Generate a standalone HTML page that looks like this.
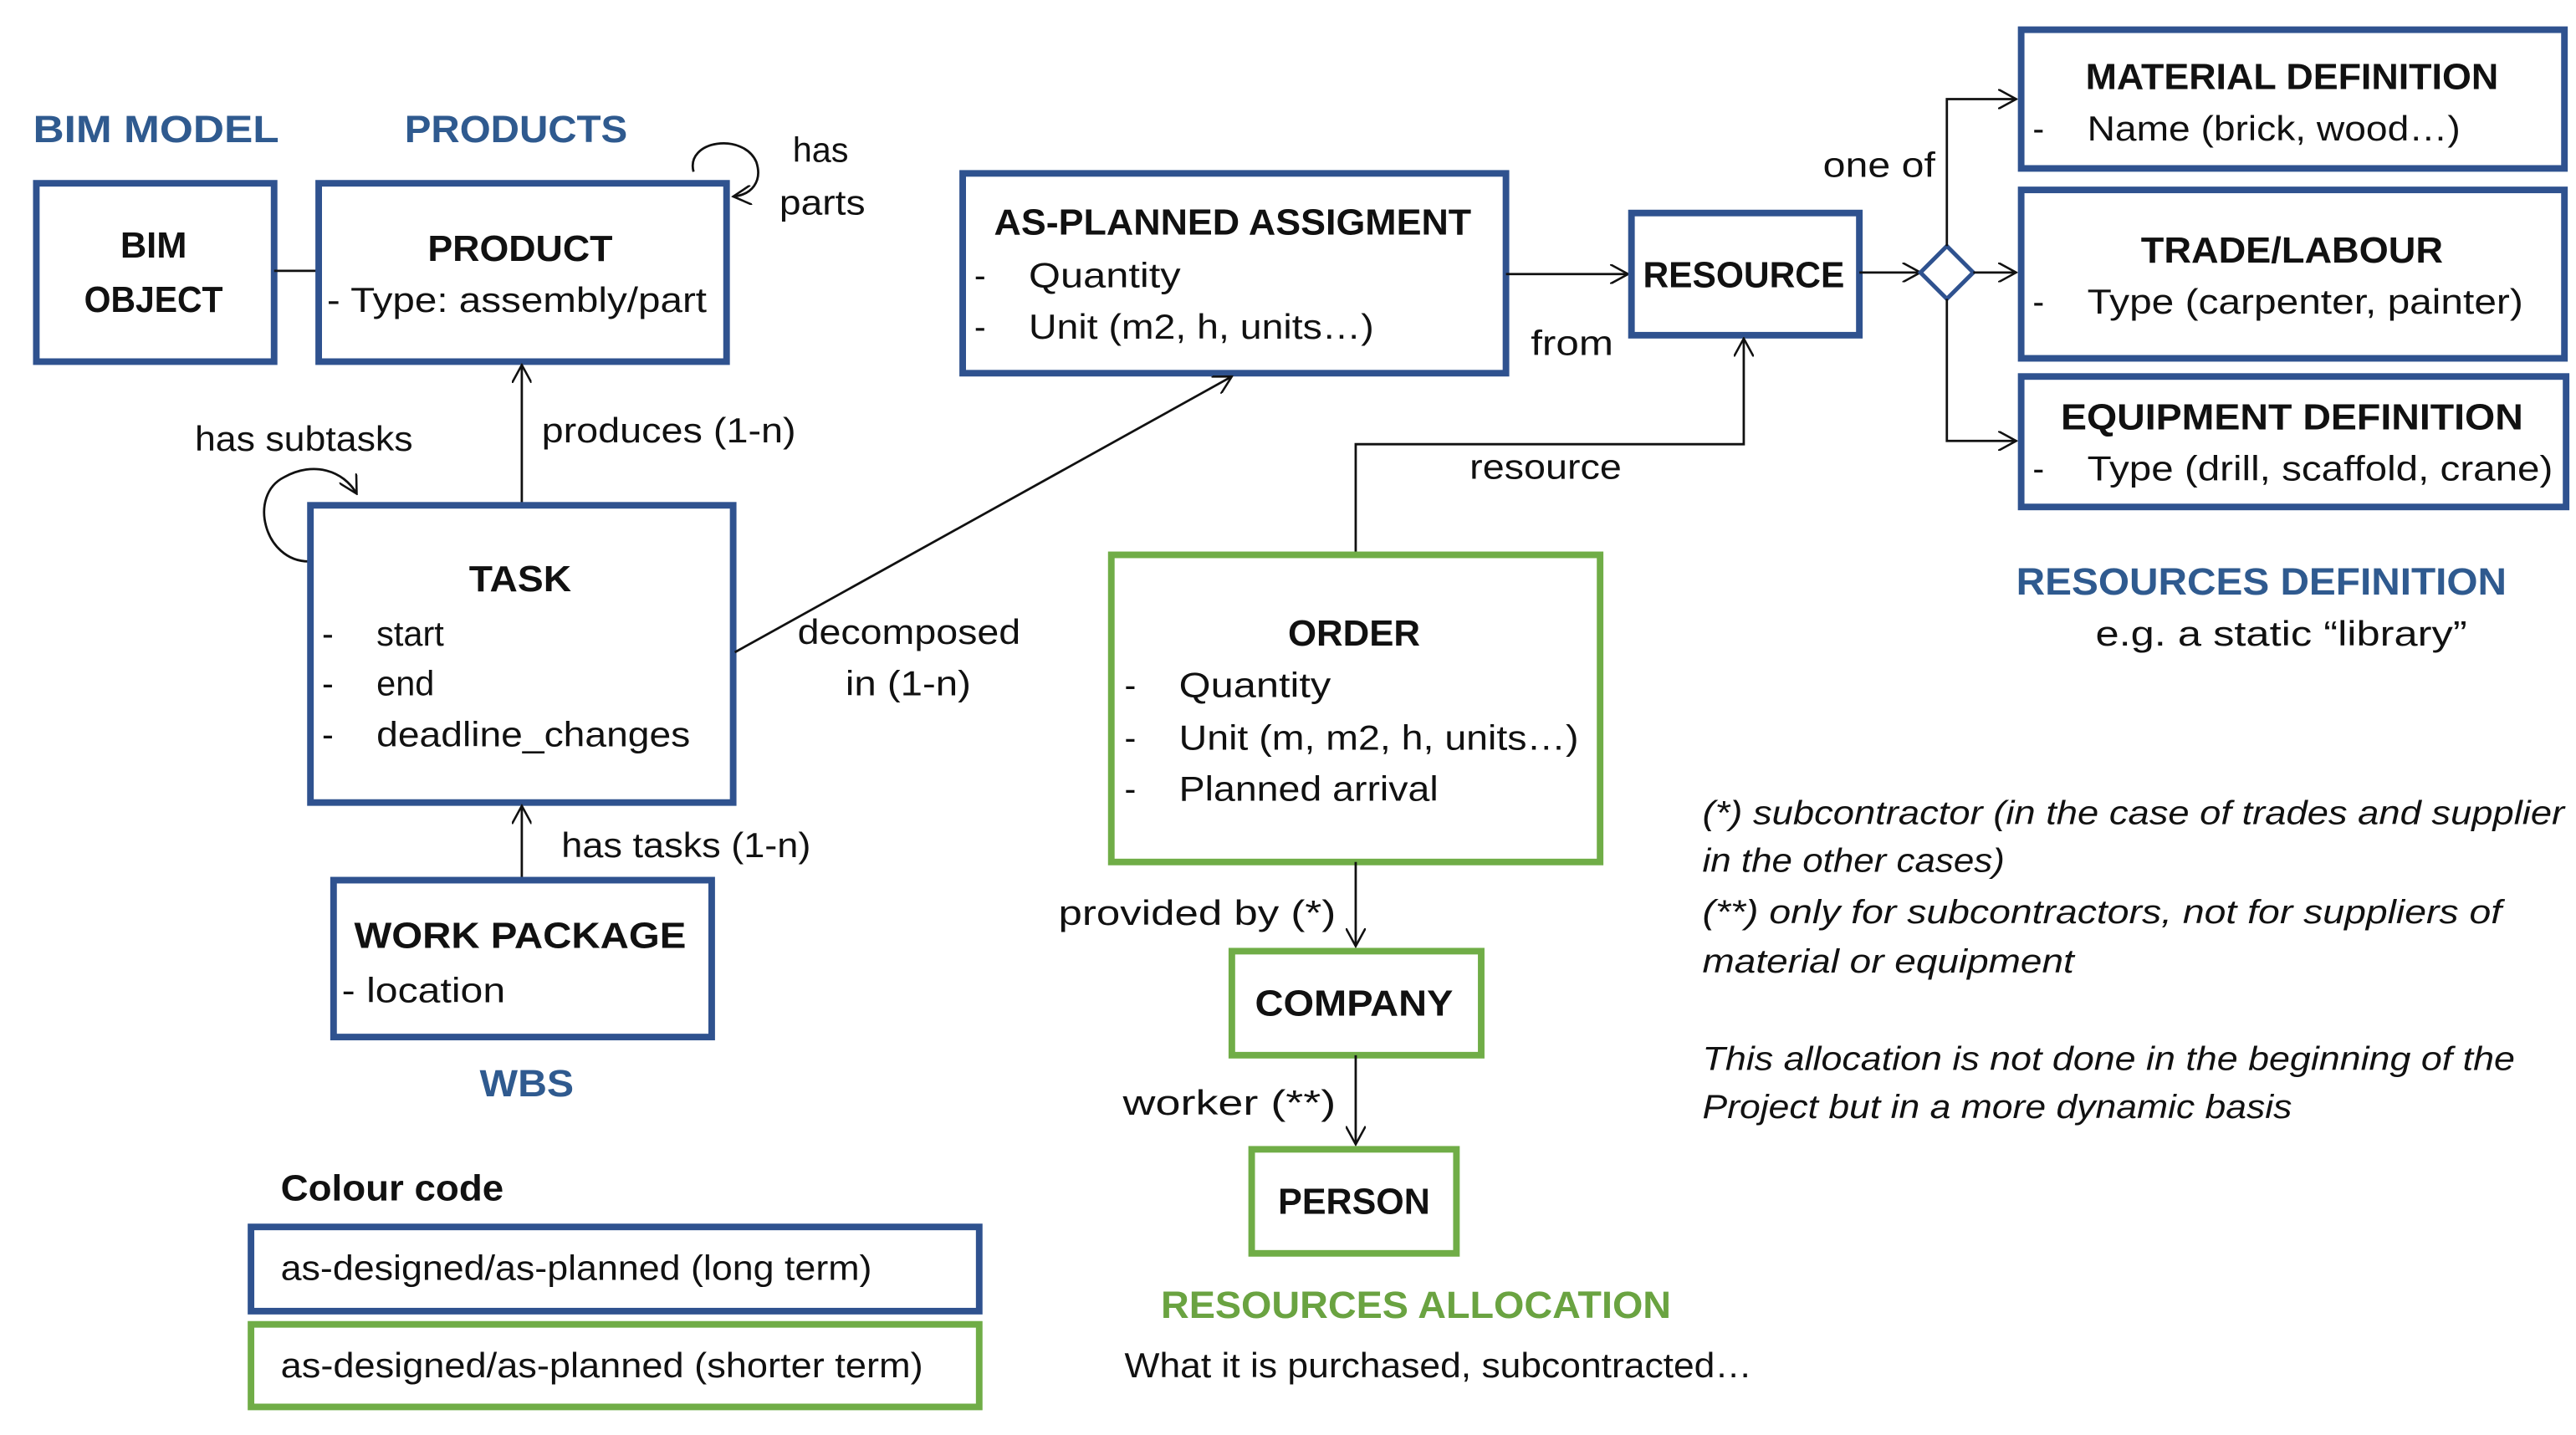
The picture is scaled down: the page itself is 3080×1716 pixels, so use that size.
<!DOCTYPE html>
<html><head><meta charset="utf-8"><style>
html,body{margin:0;padding:0;background:#fff;}
svg{display:block;}
text{font-family:"Liberation Sans",sans-serif;fill:#111;}
.t{font-size:21px;}
.b{font-size:22px;font-weight:bold;}
.h{font-size:23px;font-weight:bold;fill:#2f5a8f;}
.g{font-size:23px;font-weight:bold;fill:#6aa341;}
.i{font-size:20px;font-style:italic;}
.bl{fill:none;stroke:#2f528f;stroke-width:4;}
.gr{fill:none;stroke:#70ad47;stroke-width:4;}
.ln{fill:none;stroke:#111;stroke-width:1.4;}
</style></head><body>
<svg width="3080" height="1716" viewBox="0 0 1560 869" preserveAspectRatio="none" xmlns="http://www.w3.org/2000/svg">
<defs><marker id="a" viewBox="0 0 12 12" refX="11" refY="6" markerWidth="12" markerHeight="12" markerUnits="userSpaceOnUse" orient="auto"><path d="M0,0 L11,6 L0,12" fill="none" stroke="#111" stroke-width="1.3"/></marker></defs>
<rect width="1560" height="869" fill="#fff"/>

<text class="h" x="20" y="86" textLength="149" lengthAdjust="spacingAndGlyphs">BIM MODEL</text>
<text class="h" x="245" y="86" textLength="135" lengthAdjust="spacingAndGlyphs">PRODUCTS</text>

<rect class="bl" x="22" y="111" width="144" height="108"/>
<text class="b" x="93" y="156" text-anchor="middle">BIM</text>
<text class="b" x="93" y="189" text-anchor="middle" textLength="84" lengthAdjust="spacingAndGlyphs">OBJECT</text>
<line class="ln" x1="166" y1="164" x2="192" y2="164"/>
<rect class="bl" x="193" y="111" width="247" height="108"/>
<text class="b" x="315" y="158" text-anchor="middle" textLength="112" lengthAdjust="spacingAndGlyphs">PRODUCT</text>
<text class="t" x="198" y="189" textLength="230" lengthAdjust="spacingAndGlyphs">- Type: assembly/part</text>
<path class="ln" d="M420,104 C415,85 450,80 458,98 C462,110 455,118 444,119" marker-end="url(#a)"/>
<text class="t" x="480" y="98">has</text>
<text class="t" x="472" y="130" textLength="52" lengthAdjust="spacingAndGlyphs">parts</text>

<rect class="bl" x="583" y="105" width="329" height="121"/>
<text class="b" x="602" y="142" textLength="289" lengthAdjust="spacingAndGlyphs">AS-PLANNED ASSIGMENT</text>
<text class="t" x="590" y="174">-</text><text class="t" x="623" y="174" textLength="92" lengthAdjust="spacingAndGlyphs">Quantity</text>
<text class="t" x="590" y="205">-</text><text class="t" x="623" y="205" textLength="209" lengthAdjust="spacingAndGlyphs">Unit (m2, h, units…)</text>

<line class="ln" x1="912" y1="166" x2="986" y2="166" marker-end="url(#a)"/>
<text class="t" x="927" y="215" textLength="50" lengthAdjust="spacingAndGlyphs">from</text>
<rect class="bl" x="988" y="129" width="138" height="74"/>
<text class="b" x="1056" y="174" text-anchor="middle" textLength="122" lengthAdjust="spacingAndGlyphs">RESOURCE</text>

<line class="ln" x1="1126" y1="165" x2="1163" y2="165" marker-end="url(#a)"/>
<path d="M1179,149 L1195,165 L1179,181 L1163,165 Z" fill="#fff" stroke="#2f528f" stroke-width="2.5"/>
<line class="ln" x1="1195" y1="165" x2="1221" y2="165" marker-end="url(#a)"/>
<path class="ln" d="M1179,149 L1179,60 L1221,60" marker-end="url(#a)"/>
<path class="ln" d="M1179,181 L1179,267 L1221,267" marker-end="url(#a)"/>
<text class="t" x="1104" y="107" textLength="68" lengthAdjust="spacingAndGlyphs">one of</text>

<rect class="bl" x="1224" y="18" width="329" height="84"/>
<text class="b" x="1388" y="54" text-anchor="middle" textLength="250" lengthAdjust="spacingAndGlyphs">MATERIAL DEFINITION</text>
<text class="t" x="1231" y="85">-</text><text class="t" x="1264" y="85" textLength="226" lengthAdjust="spacingAndGlyphs">Name (brick, wood…)</text>
<rect class="bl" x="1224" y="115" width="329" height="102"/>
<text class="b" x="1388" y="159" text-anchor="middle" textLength="183" lengthAdjust="spacingAndGlyphs">TRADE/LABOUR</text>
<text class="t" x="1231" y="190">-</text><text class="t" x="1264" y="190" textLength="264" lengthAdjust="spacingAndGlyphs">Type (carpenter, painter)</text>
<rect class="bl" x="1224" y="228" width="330" height="79"/>
<text class="b" x="1388" y="260" text-anchor="middle" textLength="280" lengthAdjust="spacingAndGlyphs">EQUIPMENT DEFINITION</text>
<text class="t" x="1231" y="291">-</text><text class="t" x="1264" y="291" textLength="282" lengthAdjust="spacingAndGlyphs">Type (drill, scaffold, crane)</text>
<text class="h" x="1221" y="360" textLength="297" lengthAdjust="spacingAndGlyphs">RESOURCES DEFINITION</text>
<text class="t" x="1269" y="391" textLength="225" lengthAdjust="spacingAndGlyphs">e.g. a static “library”</text>

<line class="ln" x1="316" y1="305" x2="316" y2="221" marker-end="url(#a)"/>
<text class="t" x="328" y="268" textLength="154" lengthAdjust="spacingAndGlyphs">produces (1-n)</text>
<text class="t" x="118" y="273" textLength="132" lengthAdjust="spacingAndGlyphs">has subtasks</text>
<path class="ln" d="M187,340 C160,340 150,300 172,289 C190,279 208,285 216,299" marker-end="url(#a)"/>
<rect class="bl" x="188" y="306" width="256" height="180"/>
<text class="b" x="315" y="358" text-anchor="middle" textLength="62" lengthAdjust="spacingAndGlyphs">TASK</text>
<text class="t" x="195" y="391">-</text><text class="t" x="228" y="391">start</text>
<text class="t" x="195" y="421">-</text><text class="t" x="228" y="421">end</text>
<text class="t" x="195" y="452">-</text><text class="t" x="228" y="452" textLength="190" lengthAdjust="spacingAndGlyphs">deadline_changes</text>
<line class="ln" x1="445" y1="395" x2="746" y2="228" marker-end="url(#a)"/>
<text class="t" x="483" y="390" textLength="135" lengthAdjust="spacingAndGlyphs">decomposed</text>
<text class="t" x="512" y="421" textLength="76" lengthAdjust="spacingAndGlyphs">in (1-n)</text>

<line class="ln" x1="316" y1="532" x2="316" y2="488" marker-end="url(#a)"/>
<text class="t" x="340" y="519" textLength="151" lengthAdjust="spacingAndGlyphs">has tasks (1-n)</text>
<rect class="bl" x="202" y="533" width="229" height="95"/>
<text class="b" x="315" y="574" text-anchor="middle" textLength="201" lengthAdjust="spacingAndGlyphs">WORK PACKAGE</text>
<text class="t" x="207" y="607" textLength="99" lengthAdjust="spacingAndGlyphs">- location</text>
<text class="h" x="319" y="664" text-anchor="middle" textLength="57" lengthAdjust="spacingAndGlyphs">WBS</text>

<path class="ln" d="M821,335 L821,269 L1056,269 L1056,205" marker-end="url(#a)"/>
<text class="t" x="890" y="290" textLength="92" lengthAdjust="spacingAndGlyphs">resource</text>
<rect class="gr" x="673" y="336" width="296" height="186"/>
<text class="b" x="820" y="391" text-anchor="middle" textLength="80" lengthAdjust="spacingAndGlyphs">ORDER</text>
<text class="t" x="681" y="422">-</text><text class="t" x="714" y="422" textLength="92" lengthAdjust="spacingAndGlyphs">Quantity</text>
<text class="t" x="681" y="454">-</text><text class="t" x="714" y="454" textLength="242" lengthAdjust="spacingAndGlyphs">Unit (m, m2, h, units…)</text>
<text class="t" x="681" y="485">-</text><text class="t" x="714" y="485" textLength="157" lengthAdjust="spacingAndGlyphs">Planned arrival</text>

<line class="ln" x1="821" y1="522" x2="821" y2="573" marker-end="url(#a)"/>
<text class="t" x="641" y="560" textLength="168" lengthAdjust="spacingAndGlyphs">provided by (*)</text>
<rect class="gr" x="746" y="576" width="151" height="63"/>
<text class="b" x="820" y="615" text-anchor="middle" textLength="120" lengthAdjust="spacingAndGlyphs">COMPANY</text>
<line class="ln" x1="821" y1="639" x2="821" y2="693" marker-end="url(#a)"/>
<text class="t" x="680" y="675" textLength="129" lengthAdjust="spacingAndGlyphs">worker (**)</text>
<rect class="gr" x="758" y="696" width="124" height="63"/>
<text class="b" x="820" y="735" text-anchor="middle" textLength="92" lengthAdjust="spacingAndGlyphs">PERSON</text>
<text class="g" x="703" y="798" textLength="309" lengthAdjust="spacingAndGlyphs">RESOURCES ALLOCATION</text>
<text class="t" x="681" y="834" textLength="380" lengthAdjust="spacingAndGlyphs">What it is purchased, subcontracted…</text>

<text class="i" x="1031" y="499" textLength="522" lengthAdjust="spacingAndGlyphs">(*)  subcontractor (in the case of trades and supplier</text>
<text class="i" x="1031" y="528" textLength="183" lengthAdjust="spacingAndGlyphs">in the other cases)</text>
<text class="i" x="1031" y="559" textLength="484" lengthAdjust="spacingAndGlyphs">(**)  only for subcontractors, not for suppliers of</text>
<text class="i" x="1031" y="589" textLength="225" lengthAdjust="spacingAndGlyphs">material or equipment</text>
<text class="i" x="1031" y="648" textLength="492" lengthAdjust="spacingAndGlyphs">This allocation is not done in the beginning of the</text>
<text class="i" x="1031" y="677" textLength="357" lengthAdjust="spacingAndGlyphs">Project but in a more dynamic basis</text>

<text class="b" x="170" y="727" textLength="135" lengthAdjust="spacingAndGlyphs">Colour code</text>
<rect class="bl" x="152" y="743" width="441" height="51"/>
<text class="t" x="170" y="775" textLength="358" lengthAdjust="spacingAndGlyphs">as-designed/as-planned (long term)</text>
<rect class="gr" x="152" y="802" width="441" height="50"/>
<text class="t" x="170" y="834" textLength="389" lengthAdjust="spacingAndGlyphs">as-designed/as-planned (shorter term)</text>
</svg>
</body></html>
